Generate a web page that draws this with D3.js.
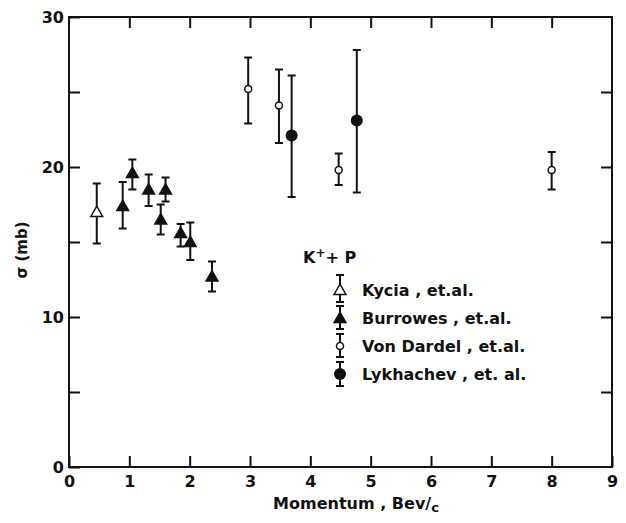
<!DOCTYPE html>
<html>
<head>
<meta charset="utf-8">
<script src="https://cdn.jsdelivr.net/npm/d3@7"></script>
<style>
  body { margin: 0; background: #fff; }
  text { font-family: "DejaVu Sans", sans-serif; font-weight: bold; fill: #111; }
</style>
</head>
<body>
<div id="chart"></div>
<script>
// momentum (Bev/c), sigma (mb), upper and lower ends of the error bars
const kyciaX = [0.46];
const kyciaY = [17.0];
const kyciaHi = [18.9];
const kyciaLo = [14.9];

const burrowesX = [0.89, 1.05, 1.32, 1.52, 1.6, 1.85, 2.01, 2.37];
const burrowesY = [17.4, 19.6, 18.5, 16.5, 18.5, 15.6, 15.0, 12.7];
const burrowesHi = [19.0, 20.5, 19.5, 17.5, 19.3, 16.2, 16.3, 13.7];
const burrowesLo = [15.9, 18.5, 17.4, 15.5, 17.7, 14.7, 13.8, 11.7];

const dardelX = [2.97, 3.48, 4.47, 8.0];
const dardelY = [25.2, 24.1, 19.8, 19.8];
const dardelHi = [27.3, 26.5, 20.9, 21.0];
const dardelLo = [22.9, 21.6, 18.8, 18.5];

const lykhachevX = [3.69, 4.77];
const lykhachevY = [22.1, 23.1];
const lykhachevHi = [26.1, 27.8];
const lykhachevLo = [18.0, 18.3];

const xTicks = [0, 1, 2, 3, 4, 5, 6, 7, 8, 9];
const yTicks = [0, 5, 10, 15, 20, 25, 30];
const yLabels = [0, 10, 20, 30];
const legendNames = ["Kycia , et.al.", "Burrowes , et.al.", "Von Dardel , et.al.", "Lykhachev , et. al."];

const width = 626, height = 523;
const margin = {left: 69, right: 14, top: 17, bottom: 56};

const svg = d3.select("#chart").append("svg")
    .attr("width", width)
    .attr("height", height);

const x = d3.scaleLinear().domain([0, 9]).range([margin.left, width - margin.right]);
const y = d3.scaleLinear().domain([0, 30]).range([height - margin.bottom, margin.top]);

const tickLen = 11;

// frame
svg.append("rect")
    .attr("x", x(0)).attr("y", y(30))
    .attr("width", x(9) - x(0)).attr("height", y(0) - y(30))
    .attr("fill", "none").attr("stroke", "#111").attr("stroke-width", 2);

function styleAxis(g) {
    g.select(".domain").remove();
    g.selectAll(".tick line").attr("stroke", "#111").attr("stroke-width", 2);
    g.selectAll("text").style("font-size", "16px");
}

svg.append("g")
    .attr("transform", `translate(0,${y(0)})`)
    .call(d3.axisBottom(x).tickValues(xTicks).tickSize(-tickLen).tickPadding(9))
    .call(styleAxis);

svg.append("g")
    .attr("transform", `translate(0,${y(30)})`)
    .call(d3.axisTop(x).tickValues(xTicks.slice(1, -1)).tickSize(-tickLen).tickFormat(""))
    .call(styleAxis);

svg.append("g")
    .attr("transform", `translate(${x(0)},0)`)
    .call(d3.axisLeft(y).tickValues(yTicks).tickSize(-tickLen).tickPadding(5)
        .tickFormat(d => yLabels.includes(d) ? d : ""))
    .call(styleAxis);

svg.append("g")
    .attr("transform", `translate(${x(9)},0)`)
    .call(d3.axisRight(y).tickValues(yTicks.slice(1, -1)).tickSize(-tickLen).tickFormat(""))
    .call(styleAxis);

// axis titles
const xt = svg.append("text")
    .attr("x", 356).attr("y", 509)
    .attr("text-anchor", "middle")
    .style("font-size", "16px");
xt.append("tspan").text("Momentum , Bev/");
xt.append("tspan").attr("dy", 3).style("font-size", "13px").text("c");

svg.append("text")
    .attr("transform", "translate(27,250) rotate(-90)")
    .attr("text-anchor", "middle")
    .style("font-size", "15px")
    .text("σ (mb)");

// markers
const triangle = d3.symbol().type(d3.symbolTriangle).size(60);

function drawSeries(xs, ys, his, los, kind) {
    const rows = xs.map((v, i) => ({x: v, y: ys[i], hi: his[i], lo: los[i]}));
    const g = svg.append("g");
    const cap = 4;
    rows.forEach(d => {
        const cx = x(d.x);
        g.append("line").attr("x1", cx).attr("x2", cx).attr("y1", y(d.hi)).attr("y2", y(d.lo))
            .attr("stroke", "#111").attr("stroke-width", 2);
        [d.hi, d.lo].forEach(e => {
            g.append("line").attr("x1", cx - cap).attr("x2", cx + cap).attr("y1", y(e)).attr("y2", y(e))
                .attr("stroke", "#111").attr("stroke-width", 2);
        });
        drawMarker(g, cx, y(d.y), kind);
    });
}

function drawMarker(g, cx, cy, kind) {
    if (kind === "openTri" || kind === "fillTri") {
        g.append("path").attr("d", triangle)
            .attr("transform", `translate(${cx},${cy + 1})`)
            .attr("fill", kind === "openTri" ? "#fff" : "#111")
            .attr("stroke", "#111").attr("stroke-width", 1.5);
    } else if (kind === "openCirc") {
        g.append("circle").attr("cx", cx).attr("cy", cy).attr("r", 3.5)
            .attr("fill", "#fff").attr("stroke", "#111").attr("stroke-width", 1.5);
    } else {
        g.append("circle").attr("cx", cx).attr("cy", cy).attr("r", 6)
            .attr("fill", "#111");
    }
}

drawSeries(kyciaX, kyciaY, kyciaHi, kyciaLo, "openTri");
drawSeries(burrowesX, burrowesY, burrowesHi, burrowesLo, "fillTri");
drawSeries(dardelX, dardelY, dardelHi, dardelLo, "openCirc");
drawSeries(lykhachevX, lykhachevY, lykhachevHi, lykhachevLo, "fillCirc");

// legend
const lg = svg.append("g");
const title = lg.append("text").attr("x", 303).attr("y", 263).style("font-size", "16px");
title.append("tspan").text("K");
title.append("tspan").attr("dy", -6).style("font-size", "12px").text("+");
title.append("tspan").attr("dy", 6).text("+ P");

const kinds = ["openTri", "fillTri", "openCirc", "fillCirc"];
const legendY = d3.scalePoint().domain(legendNames).range([290, 374]);
const legendSpan = [[275, 302], [306, 329], [334, 357], [362, 386]];
legendNames.forEach((name, i) => {
    const cy = legendY(name);
    const cx = 340;
    const [t, b] = legendSpan[i];
    lg.append("line").attr("x1", cx).attr("x2", cx).attr("y1", t).attr("y2", b)
        .attr("stroke", "#111").attr("stroke-width", 2);
    [t, b].forEach(e => lg.append("line").attr("x1", cx - 4).attr("x2", cx + 4).attr("y1", e).attr("y2", e)
        .attr("stroke", "#111").attr("stroke-width", 2));
    drawMarker(lg, cx, cy, kinds[i]);
    lg.append("text").attr("x", 362).attr("y", cy + 6).style("font-size", "16px").text(name);
});
</script>
</body>
</html>
